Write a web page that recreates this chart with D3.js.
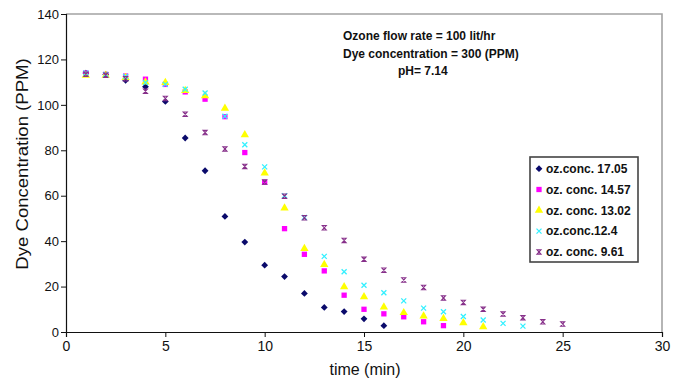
<!DOCTYPE html>
<html>
<head>
<meta charset="utf-8">
<script src="https://cdn.jsdelivr.net/npm/d3@7"></script>
<style>
  body { margin: 0; background: #fff; }
  svg { font-family: "Liberation Sans", Arial, sans-serif; }
</style>
</head>
<body>
<svg id="chart" width="683" height="382"></svg>
<script>
// time values (min), one reading per minute
var times = [1, 2, 3, 4, 5, 6, 7, 8, 9, 10, 11, 12, 13, 14, 15, 16, 17, 18, 19, 20, 21, 22, 23, 24, 25];

// dye concentration (PPM)
var conc1705 = [114, 113.4, 110.8, 108, 101.5, 85.4, 71, 50.9, 39.6, 29.4, 24.4, 17, 10.8, 9, 5.8, 2.8];
var conc1457 = [114, 113.4, 112.7, 111.3, 109, 105.7, 102.5, 94.8, 79, 65.9, 45.5, 34.2, 26.9, 16.2, 10, 8, 6.7, 4.5, 2.8];
var conc1302 = [113, 113, 112, 110, 109.8, 106.3, 104, 98.5, 86.8, 70, 54.6, 36.7, 29.7, 19.9, 15.5, 11, 8.5, 7, 5.9, 4, 2.3];
var conc124  = [114, 113.4, 112.5, 109.8, 109, 106.9, 105.2, 95, 82.4, 72.7, 60, 50.4, 33.3, 26.5, 20.6, 17.3, 13.7, 10.5, 8.9, 6.8, 5.3, 3.8, 2.6];
var conc961  = [113.5, 113, 111.5, 106, 102.8, 95.9, 87.8, 80.6, 72.9, 66, 59.8, 50.3, 45.9, 40.3, 32, 27.2, 22.9, 19.6, 15, 13, 10, 7.9, 6.3, 4.5, 3.5];

var seriesNames = ["oz.conc. 17.05", "oz. conc. 14.57", "oz. conc. 13.02", "oz.conc.12.4", "oz. conc. 9.61"];
var seriesValues = [conc1705, conc1457, conc1302, conc124, conc961];
var seriesColors = ["#0a0a6b", "#ff00ff", "#ffff00", "#33f0ff", "#87308a"];

var xTicks = [0, 5, 10, 15, 20, 25, 30];
var yTicks = [0, 20, 40, 60, 80, 100, 120, 140];

var notes = ["Ozone flow rate = 100 lit/hr", "Dye concentration = 300 (PPM)", "pH= 7.14"];

var svg = d3.select("#chart");
var plotLeft = 66, plotRight = 662, plotTop = 14, plotBottom = 332;

var xScale = d3.scaleLinear().domain([0, 30]).range([plotLeft, plotRight]);
var yScale = d3.scaleLinear().domain([0, 140]).range([plotBottom, plotTop]);

// gray frame on top and right
svg.append("path")
    .attr("d", "M" + plotLeft + "," + plotTop + "H" + plotRight + "V" + plotBottom)
    .attr("fill", "none")
    .attr("stroke", "#a3a3a3")
    .attr("stroke-width", 1.6);

var yAxis = svg.append("g")
    .attr("transform", "translate(" + plotLeft + ",0)")
    .call(d3.axisLeft(yScale).tickValues(yTicks).tickSize(5).tickPadding(2));
var xAxis = svg.append("g")
    .attr("transform", "translate(0," + plotBottom + ")")
    .call(d3.axisBottom(xScale).tickValues(xTicks).tickSize(5).tickPadding(4));

yAxis.selectAll("text").attr("font-size", 13).attr("fill", "#111");
xAxis.selectAll("text").attr("font-size", 14).attr("fill", "#111");
svg.selectAll(".domain").attr("stroke", "#111").attr("stroke-width", 1.2);
svg.selectAll(".tick line").attr("stroke", "#111");

// axis titles
svg.append("text")
    .attr("x", 365).attr("y", 375)
    .attr("text-anchor", "middle")
    .attr("font-size", 16)
    .attr("fill", "#111")
    .text("time (min)");
svg.append("text")
    .attr("transform", "translate(28,164) rotate(-90) scale(1.16,1)")
    .attr("text-anchor", "middle")
    .attr("font-size", 16)
    .attr("fill", "#111")
    .text("Dye Concentration (PPM)");

// marker shapes, one per series
function markerPath(i) {
    if (i == 0) return "M0,-3.4L3.4,0L0,3.4L-3.4,0Z";
    if (i == 1) return d3.symbol().type(d3.symbolSquare).size(28)();
    if (i == 2) return d3.symbol().type(d3.symbolTriangle).size(30)();
    if (i == 3) return "M-2.5,-2.5L2.5,2.5M-2.5,2.5L2.5,-2.5";
    return "M-2,-2.2H2L-2,2.2H2Z";
}
function styleMarker(sel, i) {
    if (i < 3) {
        sel.attr("fill", seriesColors[i]).attr("stroke", "none");
    } else {
        sel.attr("fill", "none").attr("stroke", seriesColors[i]).attr("stroke-width", i == 3 ? 1.3 : 1.1);
    }
}

seriesValues.forEach(function (values, i) {
    svg.append("g").selectAll("path")
        .data(values)
        .enter()
        .append("path")
        .attr("d", markerPath(i))
        .attr("transform", function (d, k) {
            return "translate(" + xScale(times[k]) + "," + yScale(d) + ")";
        })
        .call(styleMarker, i);
});

// notes in the top middle
var noteX = [343, 343, 398];
var noteY = [40, 57.5, 75];
notes.forEach(function (t, i) {
    svg.append("text")
        .attr("x", noteX[i]).attr("y", noteY[i])
        .attr("font-size", 12)
        .attr("font-weight", "bold")
        .attr("fill", "#111")
        .text(t);
});

// legend
var legend = svg.append("g");
legend.append("rect")
    .attr("x", 530).attr("y", 157)
    .attr("width", 108).attr("height", 105)
    .attr("fill", "#fff")
    .attr("stroke", "#444")
    .attr("stroke-width", 1.6);
seriesNames.forEach(function (name, i) {
    var rowY = 168.7 + i * 20.8;
    legend.append("path")
        .attr("d", markerPath(i))
        .attr("transform", "translate(539," + rowY + ")")
        .call(styleMarker, i);
    legend.append("text")
        .attr("x", 546).attr("y", rowY + 4.3)
        .attr("font-size", 12)
        .attr("font-weight", "bold")
        .attr("fill", "#111")
        .text(name);
});
</script>
</body>
</html>
